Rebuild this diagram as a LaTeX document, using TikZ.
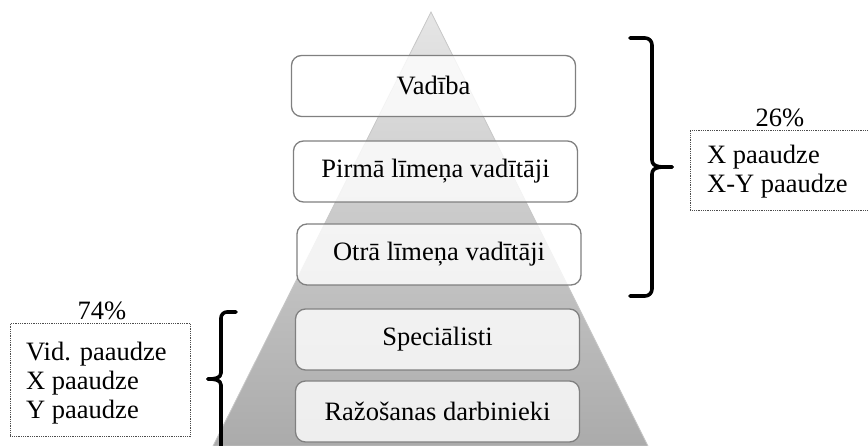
\documentclass[tikz,border=0pt]{standalone}
\usepackage{fontspec}
\setmainfont{Liberation Serif}
\begin{document}
\begin{tikzpicture}[x=1pt,y=-1pt,
  lvl/.style={draw=black!50, line width=1.3pt, rounded corners=10pt, fill=white, fill opacity=0.8, text opacity=1, minimum width=284pt, minimum height=61pt, font=\fontsize{26.5}{30}\selectfont, inner sep=0pt},
  brk/.style={line width=3.6pt, line cap=round, line join=round},
  gbox/.style={draw=black!70, densely dotted, line width=0.8pt, inner sep=0pt},
  txt/.style={font=\fontsize{26.5}{29}\selectfont, inner sep=0pt},
]
\useasboundingbox (0,0) rectangle (868,446);
% pyramid
\shade[top color=black!10, bottom color=black!33, draw=black!22, line width=0.8pt]
  (431,12) -- (648,446) -- (213,446) -- cycle;
\draw[black!35, line width=1pt] (200,446) -- (660,446);
% levels
\node[lvl] (v) at (433.5,86) {Vadība};
\node[lvl] (p) at (435.5,171.5) {Pirmā līmeņa vadītāji};
\node[lvl] (o) at (439,254.5) {Otrā līmeņa vadītāji};
\node[lvl] (s) at (437.5,339.5) {Speciālisti};
\node[lvl] (r) at (437.5,411.5) {Ražošanas darbinieki};
% right bracket
\coordinate (rt) at (630,38);
\coordinate (rb) at (630,296);
\coordinate (rm) at (672,167);
\draw[brk] (rt) -- (645,38) to[out=0,in=90] (652,45) -- (652,160) to[out=-90,in=180] (rm);
\draw[brk] (rb) -- (645,296) to[out=0,in=-90] (652,289) -- (652,174) to[out=90,in=180] (rm);
% right group
\node[gbox, minimum width=180pt, minimum height=80pt, anchor=north west] (rg) at (690,130) {};
\node[txt] (rp) at (780,118) {26\%};
\node[txt, anchor=west] (rx) at (707,157) {X paaudze};
\node[txt, anchor=west] (rxy) at (707,186) {X-Y paaudze};
% left bracket
\coordinate (lt) at (236,312);
\coordinate (lb) at (221,446);
\coordinate (lm) at (208,379);
\draw[brk] (lt) -- (227,312) to[out=180,in=90] (221,318) -- (221,373) to[out=-90,in=0] (lm);
\draw[brk] (lb) -- (221,385) to[out=90,in=0] (lm);
% left group
\node[gbox, minimum width=180pt, minimum height=113pt, anchor=north west] (lg) at (10,323) {};
\node[txt] (lp) at (102,311) {74\%};
\node[txt, anchor=west] (l1) at (26,354) {Vid. paaudze};
\node[txt, anchor=west] (l2) at (26,383) {X paaudze};
\node[txt, anchor=west] (l3) at (26,412) {Y paaudze};
\end{tikzpicture}
\end{document}
